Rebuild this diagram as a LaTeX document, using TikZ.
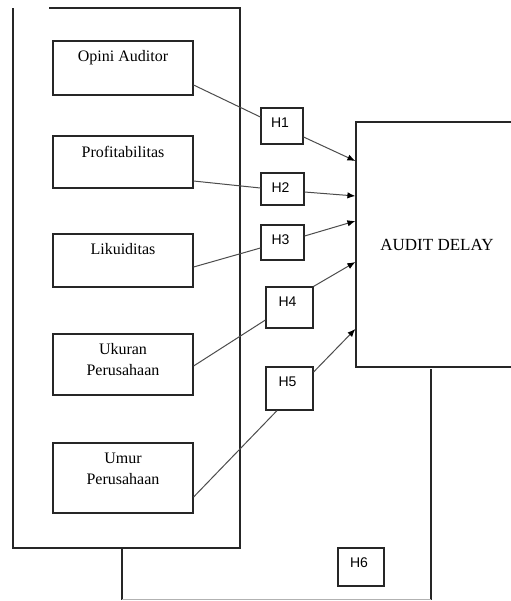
\documentclass[tikz,border=0pt]{standalone}
\usepackage{fontspec}
\setmainfont{Liberation Serif}
\newfontfamily\hfont{Liberation Sans}
\usetikzlibrary{arrows.meta}

\tikzset{
  frame/.style={draw=black!85, line width=0.6pt},
  varbox/.style={draw=black!85, line width=0.6pt, minimum width=70pt, minimum height=#1, inner sep=0pt},
  vartext/.style={anchor=north, inner sep=0pt, yshift=-5pt, align=center, font=\fontsize{8}{10.5}\selectfont},
  hbox/.style={draw=black!85, line width=0.6pt, inner sep=0pt},
  htext/.style={anchor=north, inner sep=0pt, yshift=-5pt, xshift=-1pt, font=\hfont\fontsize{7}{8}\selectfont},
  hyp/.style={draw=black!70, line width=0.5pt},
  toaudit/.style={hyp, -{Latex[length=4pt, width=3.2pt, color=black]}}
}

\begin{document}
\begin{tikzpicture}[x=0.5pt, y=-0.5pt]
    \useasboundingbox (0,0) rectangle (510,601);

    % Frames
    \draw[frame] (49,8) -- (240,8) -- (240,548) -- (13,548) -- (13,8);
    \draw[frame] (431,369) -- (431,599.5);
    \draw[frame] (122,548) -- (122,599.5);
    \draw[draw=black!30, line width=0.6pt] (122,599.5) -- (431,599.5);

    % Draw nodes
    \node[varbox=27pt, label={[vartext]north:Opini Auditor}] (opini) at (123,68) {};
    \node[varbox=26pt, label={[vartext]north:Profitabilitas}] (profit) at (123,162) {};
    \node[varbox=26.5pt, label={[vartext]north:Likuiditas}] (likuid) at (123,260.5) {};
    \node[varbox=30.5pt, label={[vartext]north:{Ukuran\\Perusahaan}}] (ukuran) at (123,364.5) {};
    \node[varbox=35pt, label={[vartext]north:{Umur\\Perusahaan}}] (umur) at (123,478) {};

    \node[hbox, minimum width=21pt, minimum height=18pt, label={[htext]north:H1}] (h1) at (282,126) {};
    \node[hbox, minimum width=21.5pt, minimum height=16pt, label={[htext]north:H2}] (h2) at (282.5,189) {};
    \node[hbox, minimum width=21.5pt, minimum height=17.5pt, label={[htext]north:H3}] (h3) at (282.5,242.5) {};
    \node[hbox, minimum width=23.5pt, minimum height=20.5pt, label={[htext]north:H4}] (h4) at (289.5,307.5) {};
    \node[hbox, minimum width=23.5pt, minimum height=21.5pt, label={[htext]north:H5}] (h5) at (289.5,388.5) {};
    \node[hbox, minimum width=23pt, minimum height=19pt, label={[htext]north:H6}] (h6) at (361,567) {};

    \node[frame, minimum width=81pt, minimum height=122.5pt, inner sep=0pt,
          font=\fontsize{8.5}{10}\selectfont] (audit) at (437,244.5) {AUDIT DELAY};

    % Draw connections
    \draw[hyp] ([yshift=-8.5pt]opini.east) -- ([yshift=4.5pt]h1.west);
    \draw[toaudit] ([yshift=-5.5pt]h1.east) -- ([yshift=41.75pt]audit.west);

    \draw[hyp] ([yshift=-9.5pt]profit.east) -- ([yshift=0.5pt]h2.west);
    \draw[toaudit] ([yshift=-1.5pt]h2.east) -- ([yshift=24.25pt]audit.west);

    \draw[hyp] ([yshift=-3.25pt]likuid.east) -- ([yshift=-2.75pt]h3.west);
    \draw[toaudit] ([yshift=3.25pt]h3.east) -- ([yshift=11.75pt]audit.west);

    \draw[hyp] ([yshift=-0.75pt]ukuran.east) -- ([yshift=-6.25pt]h4.west);
    \draw[toaudit] (h4.north east) -- ([yshift=-8.75pt]audit.west);

    \draw[hyp] ([yshift=-9.5pt]umur.east) -- ([xshift=-6.25pt]h5.south);
    \draw[toaudit] ([yshift=8.25pt]h5.east) -- ([yshift=-42.25pt]audit.west);
\end{tikzpicture}
\end{document}
